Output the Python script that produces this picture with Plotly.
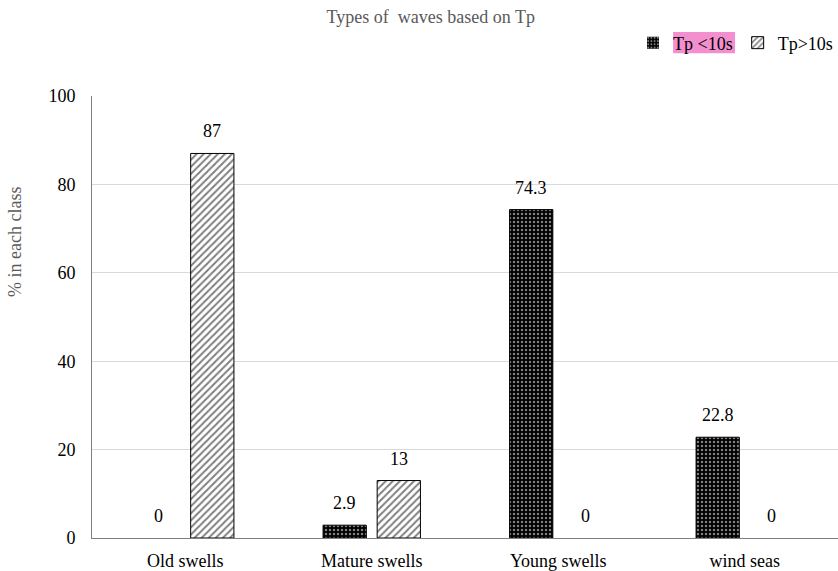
import plotly.graph_objects as go

categories = ["Old swells", "Mature swells", "Young swells", "wind seas"]
tp_short = [0, 2.9, 74.3, 22.8]   # Tp < 10 s
tp_long = [87, 13, 0, 0]          # Tp > 10 s
y_ticks = [0, 20, 40, 60, 80, 100]

serif = "Liberation Serif, Times New Roman, serif"
FS = 18


def outline(vals):
    # no outline on empty bars so the baseline stays clean
    return [0 if v == 0 else 1 for v in vals]


fig = go.Figure()
fig.add_trace(go.Bar(
    x=categories, y=tp_short, name="Tp <10s",
    marker=dict(color="#000", line=dict(color="#000", width=outline(tp_short)),
                pattern=dict(shape=".", bgcolor="#000", fgcolor="#fff",
                             size=4, solidity=0.3)),
))
fig.add_trace(go.Bar(
    x=categories, y=tp_long, name="Tp>10s",
    marker=dict(color="#fff", line=dict(color="#000", width=outline(tp_long)),
                pattern=dict(shape="/", bgcolor="#fff", fgcolor="#000",
                             size=5, solidity=0.4)),
))

# value labels above each bar, shifted onto the grouped bar centres
annotations = []
for vals, dx in ((tp_short, -27), (tp_long, 27)):
    for cat, v in zip(categories, vals):
        annotations.append(dict(
            x=cat, y=v, xref="x", yref="y", text=f"{v:g}", showarrow=False,
            xshift=dx, yshift=10, yanchor="bottom",
            font=dict(family=serif, size=FS, color="#000")))

# y-axis title, placed in the upper part of the left margin
annotations.append(dict(
    text="% in each class", xref="paper", yref="paper",
    x=-0.103, y=0.67, xanchor="center", yanchor="middle",
    textangle=-90, showarrow=False,
    font=dict(family=serif, size=FS, color="#595959")))

fig.update_layout(
    width=838, height=571,
    margin=dict(l=92, r=0, t=96, b=33),
    paper_bgcolor="#fff", plot_bgcolor="#fff",
    barmode="group", bargap=0.42, bargroupgap=0.2,
    font=dict(family=serif, size=FS, color="#000"),
    title=dict(text="Types of  waves based on Tp", x=0.514, xanchor="center",
               y=0.982, yanchor="top",
               font=dict(family=serif, size=FS, color="#595959")),
    legend=dict(orientation="h", x=1.0, xanchor="right", y=1.12, yanchor="middle",
                font=dict(family=serif, size=FS, color="#000"),
                bgcolor="rgba(0,0,0,0)", itemwidth=30),
    showlegend=True,
    annotations=annotations,
    shapes=[dict(type="rect", xref="paper", yref="paper",
                 x0=0.779, x1=0.862, y0=1.097, y1=1.145,
                 fillcolor="#f38fce", line=dict(width=0), layer="below")],
)
fig.update_xaxes(showline=True, linecolor="#7f7f7f", linewidth=1,
                 ticks="", ticklabelstandoff=6,
                 tickfont=dict(family=serif, size=FS, color="#000"))
fig.update_yaxes(range=[0, 100], tickvals=y_ticks, showgrid=True,
                 gridcolor="#d9d9d9", gridwidth=1, zeroline=False,
                 showline=True, linecolor="#7f7f7f", linewidth=1, ticks="",
                 ticklabelstandoff=12,
                 tickfont=dict(family=serif, size=FS, color="#000"))

fig.write_html("out.html")
